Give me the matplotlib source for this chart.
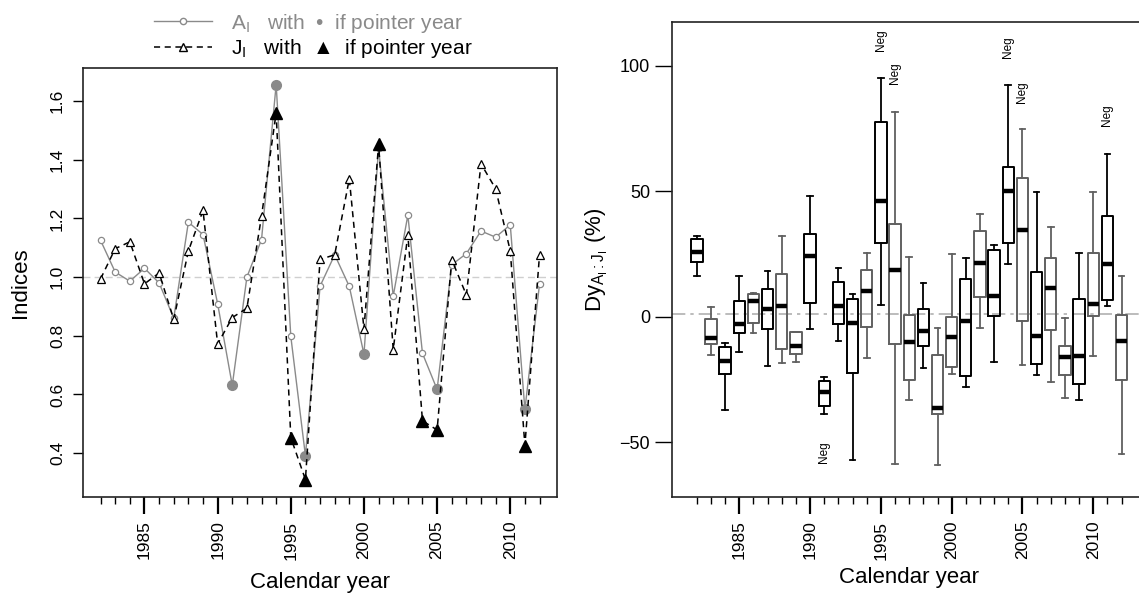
import matplotlib
matplotlib.use('Agg')
import matplotlib.pyplot as plt
from matplotlib.lines import Line2D
from matplotlib.ticker import FormatStrFormatter

plt.rcParams['font.family'] = ['Liberation Sans', 'DejaVu Sans']
plt.rcParams['mathtext.fontset'] = 'custom'
plt.rcParams['mathtext.rm'] = 'Liberation Sans'
plt.rcParams['mathtext.it'] = 'Liberation Sans:italic'

years = list(range(1982, 2013))

# left panel: indices
a_index = [1.125, 1.017, 0.986, 1.03, 0.98, 0.86, 1.187, 1.145, 0.909, 0.631,
           1.0, 1.128, 1.656, 0.798, 0.391, 0.969, 1.076, 0.968, 0.737, 1.44,
           0.935, 1.211, 0.74, 0.617, 1.042, 1.08, 1.157, 1.136, 1.178, 0.549, 0.976]
j_index = [0.994, 1.097, 1.12, 0.977, 1.014, 0.856, 1.089, 1.227, 0.772, 0.862,
           0.894, 1.208, 1.56, 0.453, 0.31, 1.06, 1.076, 1.335, 0.823, 1.452,
           0.753, 1.144, 0.51, 0.479, 1.059, 0.939, 1.386, 1.301, 1.089, 0.426, 1.076]
a_pointer = [1991, 1994, 1996, 2000, 2005, 2011]
j_pointer = [1994, 1995, 1996, 2001, 2004, 2005, 2011]

# right panel: box statistics per year
whis_lo = [16.3, -15.4, -37.4, -14.2, -6.7, -19.6, -18.4, -18.1, -4.9, -39.0,
           -9.6, -57.3, -16.5, 4.5, -58.7, -33.4, -20.5, -59.3, -22.7, -28.1,
           -4.4, -18.1, 20.9, -19.4, -23.3, -26.2, -32.5, -33.4, -15.6, 4.1, -54.6]
q1 = [21.6, -11.0, -23.0, -6.7, -2.5, -4.9, -12.9, -15.0, 5.6, -35.8,
      -3.1, -22.5, -4.0, 29.4, -11.0, -25.3, -11.6, -39.0, -20.1, -23.7,
      7.8, 0.4, 29.4, -1.7, -18.8, -5.5, -23.4, -26.7, 0.1, 6.6, -25.3]
med = [25.9, -8.5, -17.8, -2.9, 6.4, 3.0, 4.1, -11.8, 24.1, -29.9,
       4.4, -2.4, 10.1, 45.9, 18.5, -10.0, -5.7, -36.3, -8.1, -1.7,
       21.4, 8.4, 50.0, 34.4, -7.9, 11.3, -16.2, -15.7, 5.2, 21.1, -9.7]
q3 = [31.0, -0.8, -12.1, 6.4, 8.9, 11.0, 16.9, -6.3, 33.1, -25.5,
      13.8, 7.2, 18.5, 77.5, 36.8, 0.8, 3.0, -15.4, -0.1, 14.8,
      34.0, 26.4, 59.7, 55.3, 17.8, 23.4, -11.7, 7.0, 25.4, 40.0, 0.8]
whis_hi = [32.0, 4.0, -10.5, 16.3, 9.4, 18.2, 32.2, -6.0, 48.0, -24.2,
           19.3, 9.0, 25.5, 95.2, 81.6, 23.7, 13.4, -4.4, 24.9, 23.4,
           40.8, 28.4, 92.4, 74.6, 49.5, 35.7, -0.5, 25.5, 49.6, 65.0, 16.3]
dark_box = [1, 0, 1, 1, 0, 1, 0, 0, 1, 1,
            1, 1, 0, 1, 0, 0, 1, 0, 0, 1,
            0, 1, 1, 0, 1, 0, 0, 1, 0, 1, 0]
neg_years = [1991, 1995, 1996, 2004, 2005, 2011]
neg_y = [-54, 110, 97, 107.5, 89.6, 80.3]

grey = '#8a8a8a'
fig = plt.figure(figsize=(11.39, 5.96), dpi=100)
ax1 = fig.add_axes([0.0729, 0.1661, 0.4162, 0.7198])
ax2 = fig.add_axes([0.5903, 0.1661, 0.4159, 0.7965])

# ---- left panel
ax1.axhline(1.0, color='#cfcfcf', ls=(0, (5, 3)), lw=1, zorder=1)
ax1.plot(years, a_index, color=grey, lw=1, marker='o', ms=4.5, mfc='white',
         mec=grey, mew=0.9, zorder=2)
ax1.plot(a_pointer, [a_index[years.index(y)] for y in a_pointer], ls='none',
         marker='o', ms=7, color=grey, zorder=3)
ax1.plot(years, j_index, color='black', lw=1.1, ls=(0, (4, 3)), marker='^', ms=5.5,
         mfc='white', mec='black', mew=0.9, zorder=4)
ax1.plot(j_pointer, [j_index[years.index(y)] for y in j_pointer], ls='none',
         marker='^', ms=8, color='black', zorder=5)
ax1.set_xlim(1980.8, 2013.2)
ax1.set_ylim(0.2505, 1.7125)
ax1.set_yticks([0.4, 0.6, 0.8, 1.0, 1.2, 1.4, 1.6])
ax1.yaxis.set_major_formatter(FormatStrFormatter('%.1f'))
ax1.tick_params(axis='y', length=7, width=1, labelsize=12.5, labelrotation=90, pad=6)
for t in ax1.get_yticklabels():
    t.set_va('center')
ax1.set_ylabel('Indices', fontsize=16)
ax1.yaxis.set_label_coords(-0.11, 0.5)
ax1.set_xlabel('Calendar year', fontsize=16)
ax1.xaxis.set_label_coords(0.5, -0.175)

h1 = Line2D([], [], color=grey, lw=1, marker='o', ms=4.5, mfc='white', mec=grey)
h2 = Line2D([], [], color='black', lw=1.1, ls=(0, (4, 3)), marker='^', ms=5.5,
            mfc='white', mec='black')
leg = fig.legend([h1, h2],
                 [r'$\mathrm{A_I}$   with  •  if pointer year',
                  r'$\mathrm{J_I}$   with  ▲  if pointer year'],
                 loc='center', bbox_to_anchor=(0.275, 0.94), frameon=False,
                 fontsize=15, handlelength=2.8, handletextpad=0.9, labelspacing=0.1)
for t, c in zip(leg.get_texts(), [grey, 'black']):
    t.set_color(c)

# ---- right panel
stats = []
for i in range(len(years)):
    stats.append({'whislo': whis_lo[i], 'q1': q1[i], 'med': med[i],
                  'q3': q3[i], 'whishi': whis_hi[i]})
ax2.axhline(1, color='#b0b0b0', ls=(0, (8, 3, 2, 3)), lw=1.2, zorder=0)
bp = ax2.bxp(stats, positions=years, widths=0.8, capwidths=0.4, showfliers=False,
             manage_ticks=False,
             boxprops=dict(lw=1.4), whiskerprops=dict(lw=1.3, ls='-'),
             capprops=dict(lw=1.3), medianprops=dict(color='black', lw=3.2))
for i, d in enumerate(dark_box):
    c = 'black' if d else '#606060'
    bp['boxes'][i].set_color(c)
    for k in (2 * i, 2 * i + 1):
        bp['whiskers'][k].set_color(c)
        bp['caps'][k].set_color(c)
for yr, v in zip(neg_years, neg_y):
    ax2.text(yr, v, 'Neg', rotation=90, ha='center', va='center', fontsize=8.5)
ax2.set_xlim(1980.27, 2013.73)
ax2.set_ylim(-71.9, 117.3)
ax2.set_yticks([-50, 0, 50, 100])
ax2.tick_params(axis='y', length=12, width=1, labelsize=13, pad=4)
ax2.set_ylabel(r'$\mathrm{Dy_{A_I:J_I}}$ (%)', fontsize=16)
ax2.yaxis.set_label_coords(-0.132, 0.5)
ax2.set_xlabel('Calendar year', fontsize=16)
ax2.xaxis.set_label_coords(0.5, -0.148)
ax2.spines['right'].set_visible(False)

for ax in (ax1, ax2):
    ax.set_xticks(range(1985, 2011, 5))
    ax.set_xticks(years, minor=True)
    ax.tick_params(axis='x', which='major', length=12, width=1.6, labelsize=12.5,
                   labelrotation=90, pad=5)
    ax.tick_params(axis='x', which='minor', length=5, width=1)
    for s in ax.spines.values():
        s.set_linewidth(1.2)
        s.set_color('#222222')

fig.savefig('out.png', dpi=100)
